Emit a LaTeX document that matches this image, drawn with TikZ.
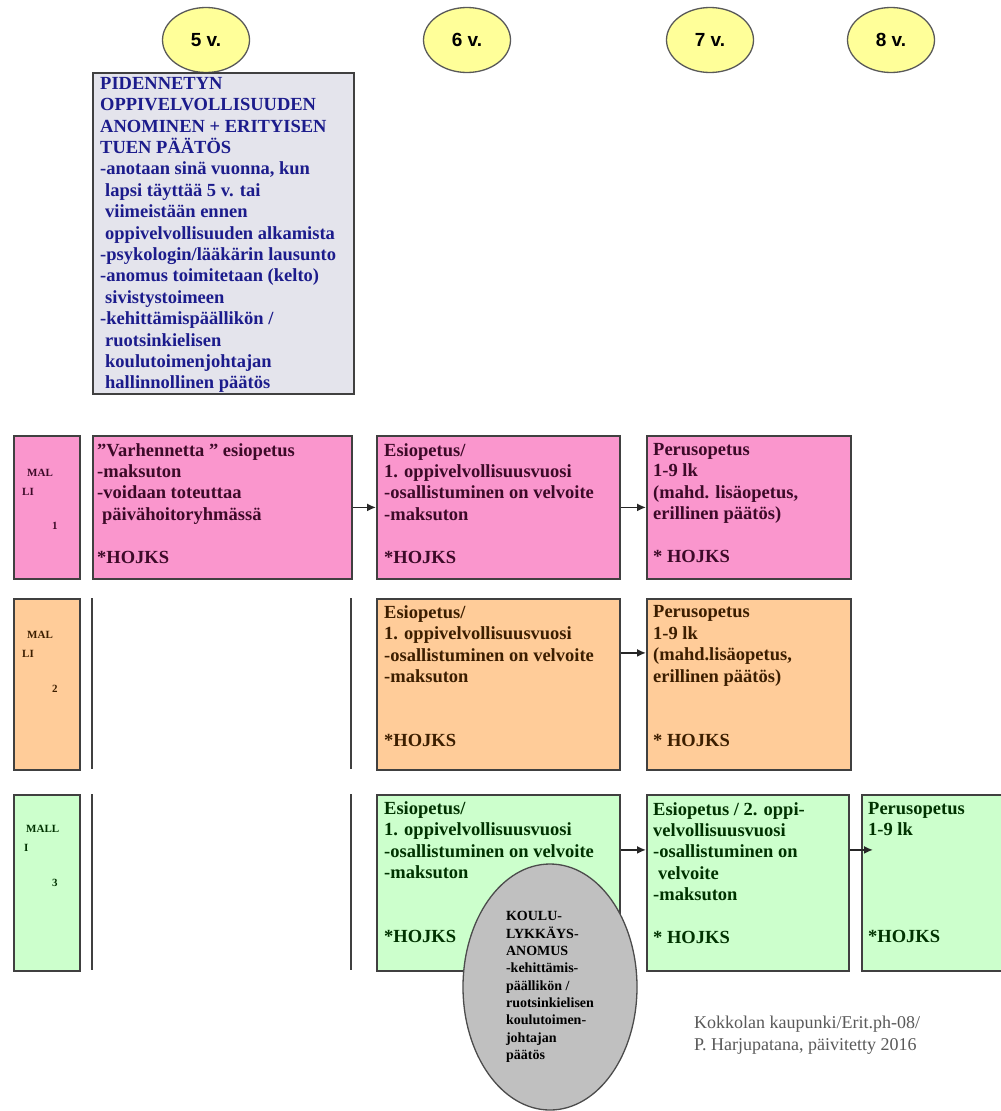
\documentclass[tikz,border=0pt]{standalone}
\usepackage{fontspec}
\setmainfont{Liberation Serif}
\newfontfamily\agefont{Liberation Sans}
\usepackage{tikz}
\usetikzlibrary{positioning,shapes.geometric,arrows.meta}

\definecolor{ageyellow}{RGB}{255,255,153}
\definecolor{notegrey}{RGB}{228,228,236}
\definecolor{notenavy}{RGB}{28,28,140}
\definecolor{pinkfill}{RGB}{250,150,205}
\definecolor{pinktext}{RGB}{60,10,40}
\definecolor{orangefill}{RGB}{255,204,153}
\definecolor{orangetext}{RGB}{60,30,0}
\definecolor{greenfill}{RGB}{204,255,204}
\definecolor{greentext}{RGB}{0,50,0}
\definecolor{defergrey}{RGB}{192,192,192}

\newcommand{\lineindent}{\hspace*{5pt}}

\tikzset{
  age/.style={ellipse, draw=black!65, line width=1.3pt, fill=ageyellow,
    minimum width=87pt, minimum height=65pt, inner sep=0pt,
    font=\agefont\bfseries\fontsize{19}{19}\selectfont},
  cell/.style={rectangle, draw=black!75, line width=1.8pt, anchor=north west, inner sep=0pt},
  celltext/.style={align=left, inner sep=0pt, font=\bfseries\fontsize{18.5}{21.4}\selectfont},
  mallitext/.style={align=left, inner sep=0pt, font=\bfseries\fontsize{11}{18.7}\selectfont},
  rule/.style={draw=black!75, line width=1.8pt},
  flow/.style={->, >={Latex[length=9pt,width=8pt]}, line width=1.6pt, black!85}
}

\begin{document}
\begin{tikzpicture}[x=1pt, y=-1pt]
        \fill[white] (0,0) rectangle (1001,1111);
        \useasboundingbox (0,0) rectangle (1001,1111);

        % Ages
        \node[age] (y5) at (206,40) {5 v.};
        \node[age] (y6) at (467,40) {6 v.};
        \node[age] (y7) at (710,40) {7 v.};
        \node[age] (y8) at (891,40) {8 v.};

        % Application note
        \node[cell, fill=notegrey, minimum width=261pt, minimum height=321pt] (note) at (92,72) {};
        \node[celltext, text=notenavy, below right=5pt and 8pt of note.north west] (notet)
          {PIDENNETYN\\OPPIVELVOLLISUUDEN\\ANOMINEN + ERITYISEN\\TUEN PÄÄTÖS\\
           -anotaan sinä vuonna, kun\\\lineindent lapsi täyttää 5 v. tai\\
           \lineindent viimeistään ennen\\\lineindent oppivelvollisuuden alkamista\\
           -psykologin/lääkärin lausunto\\-anomus toimitetaan (kelto)\\
           \lineindent sivistystoimeen\\-kehittämispäällikön /\\\lineindent ruotsinkielisen\\
           \lineindent koulutoimenjohtajan\\\lineindent hallinnollinen päätös};

        % Malli 1
        \node[cell, fill=pinkfill, minimum width=66pt, minimum height=143pt] (m1l) at (13,435) {};
        \node[cell, fill=pinkfill, minimum width=259pt, minimum height=143pt] (m1a) at (92,435) {};
        \node[cell, fill=pinkfill, minimum width=243pt, minimum height=143pt] (m1b) at (376,435) {};
        \node[cell, fill=pinkfill, minimum width=204pt, minimum height=143pt] (m1c) at (646,435) {};
        \node[mallitext, text=pinktext, below right=34pt and 9pt of m1l.north west] (m1lt)
          {\hspace*{5pt}MAL\\LI\\[16pt]\hspace*{30pt}1};
        \node[celltext, text=pinktext, below right=8pt and 5pt of m1a.north west] (m1at)
          {”Varhennetta ” esiopetus\\-maksuton\\-voidaan toteuttaa\\\lineindent päivähoitoryhmässä\\[21.4pt]*HOJKS};
        \node[celltext, text=pinktext, below right=8pt and 8pt of m1b.north west] (m1bt)
          {Esiopetus/\\1. oppivelvollisuusvuosi\\-osallistuminen on velvoite\\-maksuton\\[21.4pt]*HOJKS};
        \node[celltext, text=pinktext, below right=8pt and 7pt of m1c.north west] (m1ct)
          {Perusopetus\\1-9 lk\\(mahd. lisäopetus,\\erillinen päätös)\\[21.4pt]* HOJKS};

        % Malli 2
        \node[cell, fill=orangefill, minimum width=66pt, minimum height=171pt] (m2l) at (13,598) {};
        \draw[rule] (92,598) -- (92,769);
        \draw[rule] (351,598) -- (351,769);
        \node[cell, fill=orangefill, minimum width=243pt, minimum height=171pt] (m2b) at (376,598) {};
        \node[cell, fill=orangefill, minimum width=204pt, minimum height=171pt] (m2c) at (646,598) {};
        \node[mallitext, text=orangetext, below right=33.5pt and 9pt of m2l.north west] (m2lt)
          {\hspace*{5pt}MAL\\LI\\[16pt]\hspace*{30pt}2};
        \node[celltext, text=orangetext, below right=7.5pt and 8pt of m2b.north west] (m2bt)
          {Esiopetus/\\1. oppivelvollisuusvuosi\\-osallistuminen on velvoite\\-maksuton\\[42.8pt]*HOJKS};
        \node[celltext, text=orangetext, below right=7.5pt and 7pt of m2c.north west] (m2ct)
          {Perusopetus\\1-9 lk\\(mahd.lisäopetus,\\erillinen päätös)\\[42.8pt]* HOJKS};

        % Malli 3
        \node[cell, fill=greenfill, minimum width=66pt, minimum height=176pt] (m3l) at (13,794) {};
        \draw[rule] (92,794) -- (92,970);
        \draw[rule] (351,794) -- (351,970);
        \node[cell, fill=greenfill, minimum width=243pt, minimum height=176pt] (m3b) at (376,794) {};
        \node[cell, fill=greenfill, minimum width=202pt, minimum height=176pt] (m3c) at (646,794) {};
        \node[cell, fill=greenfill, minimum width=150pt, minimum height=176pt] (m3d) at (861,794) {};
        \node[mallitext, text=greentext, below right=31.5pt and 11pt of m3l.north west] (m3lt)
          {\hspace*{2pt}MALL\\I\\[16pt]\hspace*{28pt}3};
        \node[celltext, text=greentext, below right=7.5pt and 8pt of m3b.north west] (m3bt)
          {Esiopetus/\\1. oppivelvollisuusvuosi\\-osallistuminen on velvoite\\-maksuton\\[42.8pt]*HOJKS};
        \node[celltext, text=greentext, below right=8pt and 7pt of m3c.north west] (m3ct)
          {Esiopetus / 2. oppi-\\velvollisuusvuosi\\-osallistuminen on\\\lineindent velvoite\\-maksuton\\[21.4pt]* HOJKS};
        \node[celltext, text=greentext, below right=8pt and 7pt of m3d.north west] (m3dt)
          {Perusopetus\\1-9 lk\\[85.6pt]*HOJKS};

        % Arrows
        \draw[flow] (m1a) -- (m1b);
        \draw[flow] (m1b) -- (m1c);
        \draw[flow] ([yshift=31.5pt]m2b.east) -- ([yshift=31.5pt]m2c.west);
        \draw[flow] ([yshift=33pt]m3b.east) -- ([yshift=33pt]m3c.west);
        \draw[flow] ([yshift=33pt]m3c.east) -- ([xshift=12pt,yshift=33pt]m3d.west);

        % Deferral
        \node[ellipse, draw=black!70, line width=1.3pt, fill=defergrey,
          minimum width=174pt, minimum height=246pt, align=left,
          font=\bfseries\fontsize{14}{17.3}\selectfont] (defer) at (550,987)
          {KOULU-\\LYKKÄYS-\\ANOMUS\\-kehittämis-\\päällikön /\\ruotsinkielisen\\koulutoimen-\\johtajan\\päätös};

        % Credit
        \node[anchor=north west, align=left, inner sep=0pt, text=black!65,
          font=\fontsize{18}{22}\selectfont] (credit) at (694,1016)
          {Kokkolan kaupunki/Erit.ph-08/\\P. Harjupatana, päivitetty 2016};
    \end{tikzpicture}
\end{document}
